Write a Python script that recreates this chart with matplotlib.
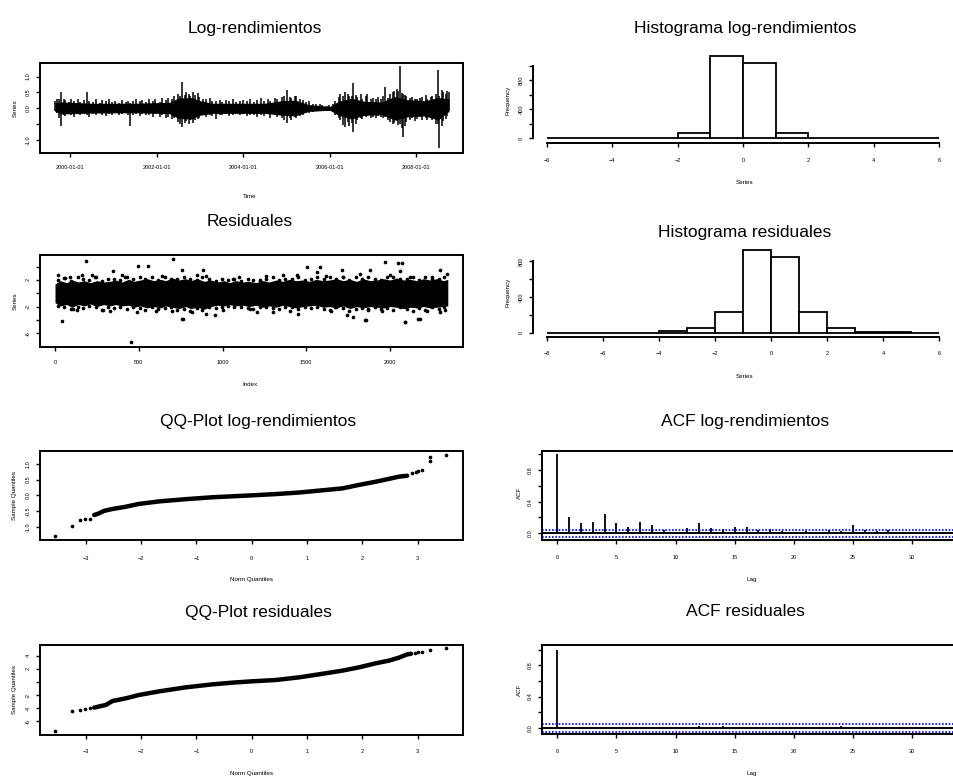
import matplotlib
matplotlib.use("Agg")
import matplotlib.pyplot as plt
import numpy as np

plt.rcParams['font.family'] = ['Liberation Sans', 'DejaVu Sans']

# ---------------- data ----------------
# Log-returns: dense core band (decimal years) + individual spikes
band_t = [1999.65, 1999.8, 2000.5, 2001.5, 2002.3, 2002.5, 2002.8, 2003.0, 2003.3, 2004.5,
          2004.9, 2005.2, 2005.5, 2006.0, 2006.2, 2006.5, 2006.8, 2007.2, 2007.5, 2007.8,
          2008.2, 2008.5, 2008.75]
band_hi = [0.18, 0.20, 0.16, 0.16, 0.19, 0.32, 0.34, 0.24, 0.16, 0.16, 0.24, 0.26, 0.12, 0.06,
           0.22, 0.32, 0.22, 0.20, 0.37, 0.27, 0.24, 0.34, 0.30]
band_lo = [-0.10, -0.18, -0.15, -0.14, -0.17, -0.32, -0.34, -0.22, -0.16, -0.16, -0.22, -0.24,
           -0.10, -0.06, -0.22, -0.34, -0.22, -0.20, -0.37, -0.27, -0.24, -0.37, -0.10]

spike_t = [1999.66, 1999.71, 1999.75, 1999.79, 1999.85, 1999.89, 1999.97, 2000.02, 2000.09, 2000.18,
           2000.23, 2000.32, 2000.39, 2000.45, 2000.54, 2000.59, 2000.69, 2000.74, 2000.84, 2000.89,
           2000.98, 2001.04, 2001.13, 2001.19, 2001.29, 2001.34, 2001.39, 2001.46, 2001.52, 2001.61,
           2001.67, 2001.76, 2001.82, 2001.91, 2001.97, 2002.07, 2002.12, 2002.22, 2002.27, 2002.36,
           2002.41, 2002.49, 2002.54, 2002.59, 2002.65, 2002.68, 2002.75, 2002.78, 2002.85, 2002.88,
           2002.95, 2002.99, 2003.08, 2003.13, 2003.23, 2003.29, 2003.37, 2003.46, 2003.51, 2003.61,
           2003.67, 2003.77, 2003.83, 2003.93, 2003.99, 2004.09, 2004.15, 2004.25, 2004.31, 2004.41,
           2004.47, 2004.57, 2004.63, 2004.73, 2004.79, 2004.89, 2004.94, 2005.00, 2005.07, 2005.11,
           2005.19, 2005.23, 2005.32, 2005.37, 2005.46, 2005.51, 2005.61, 2005.67, 2005.77, 2005.83,
           2005.93, 2005.99, 2006.08, 2006.13, 2006.21, 2006.24, 2006.31, 2006.35, 2006.41, 2006.44,
           2006.51, 2006.54, 2006.60, 2006.63, 2006.71, 2006.75, 2006.83, 2006.87, 2006.95, 2006.99,
           2007.07, 2007.11, 2007.19, 2007.23, 2007.27, 2007.34, 2007.38, 2007.46, 2007.49, 2007.56,
           2007.58, 2007.62, 2007.67, 2007.69, 2007.74, 2007.77, 2007.85, 2007.89, 2007.97, 2008.01,
           2008.09, 2008.13, 2008.21, 2008.25, 2008.33, 2008.37, 2008.45, 2008.49, 2008.53, 2008.58,
           2008.61, 2008.68, 2008.70, 2008.75]
spike_hi = [0.22, 0.30, 0.28, 0.52, 0.30, 0.25, 0.20, 0.28, 0.22, 0.30,
            0.20, 0.26, 0.52, 0.24, 0.20, 0.30, 0.18, 0.25, 0.22, 0.28,
            0.20, 0.24, 0.18, 0.26, 0.20, 0.22, 0.18, 0.24, 0.30, 0.22,
            0.26, 0.20, 0.30, 0.24, 0.28, 0.20, 0.32, 0.26, 0.34, 0.30,
            0.40, 0.45, 0.38, 0.84, 0.42, 0.50, 0.44, 0.38, 0.50, 0.42,
            0.47, 0.35, 0.30, 0.28, 0.32, 0.24, 0.22, 0.26, 0.20, 0.25,
            0.22, 0.28, 0.20, 0.24, 0.26, 0.22, 0.30, 0.20, 0.26, 0.32,
            0.24, 0.28, 0.22, 0.34, 0.30, 0.36, 0.40, 0.58, 0.36, 0.32,
            0.40, 0.38, 0.30, 0.26, 0.20, 0.22, 0.15, 0.14, 0.12, 0.10,
            0.08, 0.10, 0.14, 0.22, 0.35, 0.45, 0.40, 0.52, 0.45, 0.38,
            0.40, 0.79, 0.42, 0.36, 0.45, 0.30, 0.38, 0.44, 0.30, 0.34,
            0.28, 0.36, 0.30, 0.38, 0.68, 0.34, 0.44, 0.50, 0.56, 0.60,
            0.55, 1.33, 0.48, 0.46, 0.42, 0.38, 0.32, 0.36, 0.30, 0.28,
            0.34, 0.36, 0.42, 0.30, 0.36, 0.40, 0.45, 1.21, 0.40, 0.58,
            0.50, 0.45, 0.55, 0.52]
spike_lo = [-0.08, -0.15, -0.30, -0.56, -0.22, -0.25, -0.18, -0.20, -0.26, -0.18,
            -0.22, -0.15, -0.20, -0.28, -0.18, -0.22, -0.16, -0.20, -0.25, -0.17,
            -0.20, -0.15, -0.22, -0.18, -0.16, -0.20, -0.56, -0.20, -0.18, -0.24,
            -0.17, -0.22, -0.20, -0.26, -0.18, -0.28, -0.22, -0.30, -0.26, -0.35,
            -0.30, -0.42, -0.50, -0.58, -0.45, -0.40, -0.48, -0.36, -0.45, -0.38,
            -0.34, -0.30, -0.22, -0.26, -0.20, -0.24, -0.35, -0.20, -0.22, -0.18,
            -0.24, -0.20, -0.16, -0.22, -0.18, -0.25, -0.20, -0.22, -0.28, -0.20,
            -0.24, -0.18, -0.30, -0.22, -0.26, -0.30, -0.36, -0.47, -0.30, -0.38,
            -0.28, -0.32, -0.24, -0.20, -0.16, -0.15, -0.12, -0.10, -0.10, -0.08,
            -0.07, -0.08, -0.12, -0.20, -0.30, -0.38, -0.52, -0.60, -0.42, -0.55,
            -0.45, -0.74, -0.48, -0.38, -0.30, -0.34, -0.28, -0.24, -0.30, -0.26,
            -0.32, -0.24, -0.28, -0.30, -0.26, -0.38, -0.42, -0.50, -0.46, -0.40,
            -0.52, -0.50, -0.62, -0.91, -0.55, -0.44, -0.36, -0.30, -0.40, -0.34,
            -0.28, -0.36, -0.30, -0.38, -0.32, -0.36, -0.50, -0.50, -1.26, -0.55,
            -0.40, -0.35, -0.25, -0.10]
ts_ticks = [2000, 2002, 2004, 2006, 2008]
ts_ticklabels = ["2000-01-01", "2002-01-01", "2004-01-01", "2006-01-01", "2008-01-01"]

# Residuals vs index: core band envelope + scattered points
res_idx = [0, 30, 70, 100, 140, 175, 210, 250, 290, 330, 360, 400, 440, 470, 510, 550, 590,
           630, 660, 700, 740, 780, 810, 850, 890, 930, 970, 1010, 1040, 1080, 1120, 1160, 1200,
           1240, 1280, 1320, 1360, 1400, 1440, 1480, 1520, 1560, 1600, 1640, 1680, 1720, 1760,
           1800, 1840, 1880, 1920, 1960, 2000, 2040, 2080, 2120, 2160, 2200, 2240, 2280, 2320, 2345]
res_hi = [1.4, 1.9, 1.6, 2.0, 1.7, 1.9, 1.6, 1.9, 1.7, 1.8, 2.0, 1.7, 2.1, 1.8, 2.0, 2.2, 1.9,
          2.1, 1.9, 2.3, 2.0, 2.2, 1.9, 2.2, 1.8, 2.0, 1.7, 1.9, 1.6, 1.9, 1.7, 1.8, 1.6, 1.9,
          1.7, 2.0, 1.8, 2.1, 1.9, 2.0, 1.8, 2.1, 1.9, 2.0, 2.2, 1.9, 2.1, 1.8, 2.2, 1.9, 2.0,
          2.2, 2.0, 2.3, 2.0, 2.1, 1.9, 2.2, 2.0, 2.2, 1.9, 2.1]
res_lo = [-1.4, -1.9, -1.7, -2.1, -1.7, -1.9, -1.6, -2.0, -1.7, -1.9, -1.7, -1.9, -1.8, -2.1,
          -1.9, -2.2, -2.0, -2.2, -1.9, -2.1, -2.3, -2.0, -2.3, -2.1, -2.4, -2.0, -1.8, -1.9,
          -1.7, -1.9, -1.8, -2.0, -1.8, -2.1, -1.9, -2.1, -1.8, -2.0, -2.2, -2.0, -1.9, -1.8,
          -2.1, -2.0, -2.2, -1.9, -2.3, -2.0, -2.2, -2.0, -2.1, -2.2, -2.0, -2.1, -2.3, -2.1,
          -2.2, -2.0, -2.2, -2.1, -2.0, -1.9]
# points on the ragged edge of the band
fringe_idx = [15, 55, 95, 135, 170, 205, 245, 280, 315, 355, 390, 430, 465, 505, 540, 580, 615,
              655, 690, 730, 770, 805, 845, 880, 920, 960, 995, 1035, 1070, 1110, 1150, 1185, 1225,
              1260, 1300, 1340, 1375, 1415, 1450, 1490, 1530, 1565, 1605, 1640, 1680, 1720, 1755,
              1795, 1830, 1870, 1910, 1945, 1985, 2020, 2060, 2100, 2135, 2175, 2210, 2250, 2290, 2325]
fringe_hi = [2.0, 2.3, 1.9, 2.4, 2.1, 2.0, 2.5, 1.9, 2.2, 2.1, 2.0, 2.4, 2.2, 2.5, 2.1, 2.4, 2.0,
             2.5, 2.2, 2.1, 2.4, 2.2, 2.0, 2.5, 2.1, 1.9, 2.2, 2.0, 2.1, 1.9, 2.2, 2.0, 1.8, 2.1,
             2.4, 2.0, 2.2, 2.1, 2.5, 2.0, 2.2, 2.4, 2.1, 2.5, 2.2, 2.4, 2.0, 2.5, 2.1, 2.4, 2.2,
             2.0, 2.5, 2.4, 2.1, 2.2, 2.5, 2.0, 2.4, 2.2, 2.1, 2.4]
fringe_lo = [-1.9, -2.1, -2.4, -2.0, -2.2, -1.9, -2.1, -2.5, -2.0, -2.2, -2.1, -2.4, -2.0, -2.2,
             -2.5, -2.1, -2.4, -2.2, -2.0, -2.5, -2.4, -2.6, -2.2, -2.5, -2.1, -2.2, -2.0, -1.9,
             -2.1, -2.0, -2.2, -2.4, -2.1, -2.0, -2.2, -2.4, -2.1, -2.0, -2.4, -2.1, -2.2, -2.0,
             -2.4, -2.5, -2.1, -2.2, -2.6, -2.4, -2.2, -2.5, -2.1, -2.4, -2.2, -2.5, -2.1, -2.4,
             -2.6, -2.2, -2.5, -2.1, -2.4, -2.0]
pts_idx = [185, 44, 706, 557, 344, 159, 452, 766, 488, 881, 846, 756, 219, 89, 20, 955, 901, 816,
           109, 288, 398, 494, 1065, 1164, 1503, 1582, 1562, 1970, 2070, 2060, 1881, 1821, 1741,
           1781, 1851, 2089, 2179, 1299, 1453, 1871, 2298, 2338, 1721, 1443, 1363, 2249, 1224,
           2298, 1672, 1204, 2050, 1711, 760, 2169, 1855, 2090,
           60, 130, 240, 330, 420, 600, 640, 700, 900, 1000, 1100, 1260, 1400, 1620, 1650, 1950,
           2000, 2120, 2220, 2330]
pts_val = [4.81, -4.21, 5.1, 4.1, 3.3, 2.8, -7.3, -3.8, -2.8, 3.45, 2.8, 3.45, 2.7, 2.45, 2.8,
           -3.3, -3.1, -2.8, -2.3, -2.55, 2.7, 4.1, 2.2, -2.3, 3.95, 3.95, 3.2, 4.7, 4.5, 3.3,
           3.45, 2.95, -3.3, -3.6, -4.0, -4.3, -3.8, -2.8, -3.05, -2.3, 3.45, 2.95, 2.45, 2.7,
           2.7, 2.45, 2.0, -2.8, -2.1, -2.8, 4.6, 3.5, -3.87, -3.87, -4.0, -4.27,
           2.3, -2.5, 2.4, -2.6, 2.5, -2.7, 2.6, -2.6, 2.6, -2.5, 2.5, 2.6, -2.6, 2.6, -2.7, -2.6,
           2.7, 2.5, -2.6, -2.5]

# Histograms (bin edges and counts)
h1_edges = list(range(-6, 7))
h1_counts = [0, 0, 0, 0, 78, 1138, 1036, 78, 0, 0, 0, 0]
h2_edges = list(range(-8, 7))
h2_counts = [1, 0, 0, 0, 15, 56, 234, 923, 841, 234, 56, 12, 8, 0]

# QQ plots: dense central curve + tail points
qq1_theo = [-2.85, -2.78, -2.67, -2.52, -2.28, -2.04, -1.67, -1.19, -0.71, -0.35, 0.0, 0.43,
            0.86, 1.22, 1.64, 1.94, 2.24, 2.48, 2.66, 2.81]
qq1_samp = [-0.62, -0.58, -0.49, -0.43, -0.36, -0.27, -0.19, -0.12, -0.06, -0.03, 0.0, 0.04,
            0.09, 0.15, 0.22, 0.33, 0.43, 0.52, 0.59, 0.62]
qq1_tail_theo = [-3.55, -3.25, -3.10, -3.01, -2.93, 2.90, 2.97, 3.0, 3.08, 3.23, 3.23, 3.52]
qq1_tail_samp = [-1.28, -0.96, -0.78, -0.76, -0.74, 0.72, 0.74, 0.77, 0.80, 1.10, 1.22, 1.29]

qq2_theo = [-2.85, -2.64, -2.52, -2.28, -2.04, -1.67, -1.19, -0.71, -0.35, 0.0, 0.43, 0.86,
            1.22, 1.64, 1.94, 2.24, 2.48, 2.66, 2.81, 2.88]
qq2_samp = [-3.9, -3.5, -2.9, -2.49, -1.98, -1.42, -0.81, -0.36, -0.1, 0.1, 0.3, 0.71, 1.17,
            1.73, 2.23, 2.84, 3.25, 3.7, 4.2, 4.3]
qq2_tail_theo = [-3.55, -3.25, -3.10, -3.01, -2.93, 2.95, 3.0, 3.08, 3.23, 3.52]
qq2_tail_samp = [-7.4, -4.37, -4.26, -4.1, -4.0, 4.45, 4.57, 4.6, 4.87, 5.2]

# ACF
acf1 = [1.0, 0.20, 0.126, 0.147, 0.244, 0.126, 0.084, 0.147, 0.105, 0.04, 0.02, 0.063, 0.126,
        0.063, 0.05, 0.084, 0.084, 0.04, 0.05, 0.03, 0.02, 0.03, 0.02, 0.04, 0.03, 0.105, 0.04,
        0.03, 0.04, 0.02, 0.015, 0.02, 0.02, 0.02]
acf2 = [1.0, 0.005, -0.01, 0.004, 0.008, -0.006, 0.003, -0.004, 0.006, 0.002, -0.008, 0.005,
        0.02, -0.005, 0.018, 0.004, -0.003, 0.006, -0.004, 0.002, 0.005, -0.006, 0.003, 0.004,
        0.02, -0.003, 0.004, -0.005, 0.003, 0.006, -0.002, 0.004, -0.003, 0.002]
conf1 = 0.042
conf2 = 0.053

# ---------------- figure ----------------
W, H = 954, 781
fig = plt.figure(figsize=(W / 100, H / 100), dpi=100)
TFS = 12.5   # title size
LFS = 4.0    # tick label size
AFS = 4.5    # axis label size
TICK = 2.9


def add_ax(x0, y0, x1, y1):
    return fig.add_axes([x0 / W, 1 - y1 / H, (x1 - x0) / W, (y1 - y0) / H])


def ftext(x, y, s, **kw):
    kw.setdefault('ha', 'center')
    kw.setdefault('va', 'center')
    fig.text(x / W, 1 - y / H, s, **kw)


def style(ax, xpad=6.5, ypad=3.5):
    for sp in ax.spines.values():
        sp.set_linewidth(1.4)
    ax.tick_params(direction='out', length=TICK, width=1.0, labelsize=LFS)
    ax.tick_params(axis='x', pad=xpad)
    ax.tick_params(axis='y', pad=ypad)
    for lab in ax.get_yticklabels():
        lab.set_rotation(90)
        lab.set_va('center')


# ---- 1. Log-rendimientos time series
ax = add_ax(40, 62.7, 463, 152.7)
ax.fill_between(band_t, band_lo, band_hi, color='black', lw=0)
ax.vlines(spike_t, spike_lo, spike_hi, color='black', lw=1.1)
ax.set_xlim(1999.307, 2009.076)
ax.set_ylim(-1.40, 1.438)
ax.set_xticks(ts_ticks)
ax.set_xticklabels(ts_ticklabels)
ax.set_yticks([-1.0, -0.5, 0.0, 0.5, 1.0])
ax.set_yticklabels(['-1.0', '', '0.0', '0.5', '1.0'])
style(ax, xpad=6.3, ypad=4)
ftext(255, 28, 'Log-rendimientos', fontsize=TFS)
ftext(250, 197, 'Time', fontsize=AFS)
ftext(15, 108, 'Series', fontsize=AFS, rotation=90)

# ---- 2. Residuales vs index
ax = add_ax(40, 255, 463, 347)
ax.fill_between(res_idx, res_lo, res_hi, color='black', lw=0)
ax.scatter(fringe_idx, fringe_hi, s=7, color='black', marker='o', lw=0)
ax.scatter(fringe_idx, fringe_lo, s=7, color='black', marker='o', lw=0)
ax.scatter(pts_idx, pts_val, s=7, color='black', marker='o', lw=0)
ax.set_xlim(-89.6, 2435.8)
ax.set_ylim(-8.08, 5.76)
ax.set_xticks([0, 500, 1000, 1500, 2000])
ax.set_yticks([-6, -4, -2, 0, 2, 4])
ax.set_yticklabels(['-6', '', '-2', '', '2', ''])
style(ax, xpad=6.6, ypad=4)
ftext(250, 222, 'Residuales', fontsize=TFS)
ftext(250, 385, 'Index', fontsize=AFS)
ftext(15, 301, 'Series', fontsize=AFS, rotation=90)

# ---- 3. Histograma log-rendimientos
ax = add_ax(531, 53, 955, 143)
ax.bar(h1_edges[:-1], h1_counts, width=1.0, align='edge', facecolor='white',
       edgecolor='black', lw=1.3)
ax.set_xlim(-6.49, 6.49)
ax.set_ylim(-65, 1180)
for s in ('top', 'right'):
    ax.spines[s].set_visible(False)
ax.spines['left'].set_bounds(0, 1000)
ax.spines['bottom'].set_bounds(-6, 6)
ax.spines['left'].set_position(('axes', 0.005))
ax.set_xticks([-6, -4, -2, 0, 2, 4, 6])
ax.set_yticks([0, 200, 400, 600, 800, 1000])
ax.set_yticklabels(['0', '', '400', '', '800', ''])
style(ax, xpad=7.6, ypad=3.5)
ftext(745, 28, 'Histograma log-rendimientos', fontsize=TFS)
ftext(745, 183, 'Series', fontsize=AFS)
ftext(508, 100, 'Frequency', fontsize=AFS, rotation=90)

# ---- 4. Histograma residuales
ax = add_ax(531, 245, 955, 336.7)
ax.bar(h2_edges[:-1], h2_counts, width=1.0, align='edge', facecolor='white',
       edgecolor='black', lw=1.3)
ax.set_xlim(-8.57, 6.57)
ax.set_ylim(-45, 979)
for s in ('top', 'right'):
    ax.spines[s].set_visible(False)
ax.spines['left'].set_bounds(0, 800)
ax.spines['bottom'].set_bounds(-8, 6)
ax.spines['left'].set_position(('axes', 0.005))
ax.set_xticks([-8, -6, -4, -2, 0, 2, 4, 6])
ax.set_yticks([0, 200, 400, 600, 800])
ax.set_yticklabels(['0', '', '400', '', '800'])
style(ax, xpad=7.1, ypad=3.5)
ftext(745, 233, 'Histograma residuales', fontsize=TFS)
ftext(745, 376, 'Series', fontsize=AFS)
ftext(508, 292, 'Frequency', fontsize=AFS, rotation=90)

# ---- 5. QQ-Plot log-rendimientos
ax = add_ax(40, 450.7, 463, 540)
ax.plot(qq1_theo, qq1_samp, color='black', lw=3.2, solid_capstyle='round')
ax.scatter(qq1_tail_theo, qq1_tail_samp, s=7, color='black', marker='o', lw=0)
ax.set_xlim(-3.83, 3.82)
ax.set_ylim(-1.41, 1.41)
ax.set_xticks([-3, -2, -1, 0, 1, 2, 3])
ax.set_yticks([-1, -0.5, 0, 0.5, 1])
ax.set_yticklabels(['-1.0', '-0.5', '0.0', '0.5', '1.0'])
style(ax, xpad=8.3, ypad=4)
ftext(258, 422, 'QQ-Plot log-rendimientos', fontsize=TFS)
ftext(252, 580, 'Norm Quantiles', fontsize=AFS)
ftext(15, 495, 'Sample Quantiles', fontsize=AFS, rotation=90)

# ---- 6. ACF log-rendimientos
ax = add_ax(542, 450.7, 963, 540)
lags1 = np.arange(len(acf1))
ax.vlines(lags1, 0, acf1, color='black', lw=1.3)
ax.axhline(0, color='black', lw=1.4)
ax.axhline(conf1, color='blue', lw=1.2, ls=(0, (1, 1)))
ax.axhline(-conf1, color='blue', lw=1.2, ls=(0, (1, 1)))
ax.set_xlim(-1.29, 34.3)
ax.set_ylim(-0.085, 1.042)
ax.set_xticks([0, 5, 10, 15, 20, 25, 30])
ax.set_yticks([0, 0.2, 0.4, 0.6, 0.8, 1.0])
ax.set_yticklabels(['0.0', '', '0.4', '', '0.8', ''])
style(ax, xpad=7.6, ypad=4)
ftext(745, 422, 'ACF log-rendimientos', fontsize=TFS)
ftext(752, 580, 'Lag', fontsize=AFS)
ftext(519, 493, 'ACF', fontsize=AFS, rotation=90)

# ---- 7. QQ-Plot residuales
ax = add_ax(40, 645, 463, 735)
ax.plot(qq2_theo, qq2_samp, color='black', lw=3.2, solid_capstyle='round')
ax.scatter(qq2_tail_theo, qq2_tail_samp, s=7, color='black', marker='o', lw=0)
ax.set_xlim(-3.83, 3.82)
ax.set_ylim(-8.07, 5.63)
ax.set_xticks([-3, -2, -1, 0, 1, 2, 3])
ax.set_yticks([-6, -4, -2, 0, 2, 4])
ax.set_yticklabels(['-6', '-4', '-2', '', '2', '4'])
style(ax, xpad=7.3, ypad=4)
ftext(258, 612, 'QQ-Plot residuales', fontsize=TFS)
ftext(252, 774, 'Norm Quantiles', fontsize=AFS)
ftext(15, 690, 'Sample Quantiles', fontsize=AFS, rotation=90)

# ---- 8. ACF residuales
ax = add_ax(542, 645, 963, 734)
lags2 = np.arange(len(acf2))
ax.vlines(lags2, 0, acf2, color='black', lw=1.3)
ax.axhline(0, color='black', lw=1.4)
ax.axhline(conf2, color='blue', lw=1.2, ls=(0, (1, 1)))
ax.axhline(-conf2, color='blue', lw=1.2, ls=(0, (1, 1)))
ax.set_xlim(-1.29, 34.3)
ax.set_ylim(-0.08, 1.06)
ax.set_xticks([0, 5, 10, 15, 20, 25, 30])
ax.set_yticks([0, 0.2, 0.4, 0.6, 0.8, 1.0])
ax.set_yticklabels(['0.0', '', '0.4', '', '0.8', ''])
style(ax, xpad=8, ypad=4)
ftext(745, 612, 'ACF residuales', fontsize=TFS)
ftext(752, 774, 'Lag', fontsize=AFS)
ftext(519, 690, 'ACF', fontsize=AFS, rotation=90)

fig.savefig('out.png', dpi=100)
